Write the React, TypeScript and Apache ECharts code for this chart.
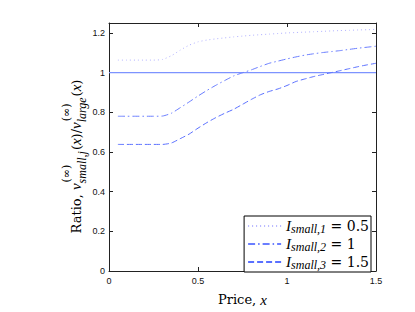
import React, { useEffect, useRef } from "react";
import * as echarts from "echarts";

const priceX = [0.05, 0.1, 0.15, 0.2, 0.25, 0.3, 0.35, 0.4, 0.45, 0.5, 0.55, 0.6, 0.65, 0.7, 0.75, 0.8, 0.85, 0.9, 0.95, 1.0, 1.05, 1.1, 1.15, 1.2, 1.25, 1.3, 1.35, 1.4, 1.45, 1.5];
const ratioI05 = [1.063, 1.063, 1.063, 1.063, 1.063, 1.066, 1.085, 1.113, 1.138, 1.155, 1.164, 1.17, 1.175, 1.18, 1.184, 1.188, 1.191, 1.194, 1.197, 1.2, 1.202, 1.204, 1.206, 1.208, 1.21, 1.212, 1.213, 1.215, 1.216, 1.218];
const ratioI10 = [0.78, 0.78, 0.78, 0.78, 0.78, 0.781, 0.795, 0.823, 0.852, 0.882, 0.91, 0.936, 0.96, 0.983, 0.999, 1.014, 1.031, 1.047, 1.058, 1.069, 1.079, 1.088, 1.095, 1.101, 1.106, 1.111, 1.117, 1.123, 1.128, 1.133];
const ratioI15 = [0.638, 0.638, 0.638, 0.638, 0.638, 0.638, 0.645, 0.667, 0.69, 0.72, 0.748, 0.773, 0.795, 0.815, 0.84, 0.865, 0.888, 0.905, 0.918, 0.935, 0.955, 0.968, 0.98, 0.99, 1.0, 1.01, 1.02, 1.03, 1.039, 1.047];
const referenceLine = [[0, 1], [1.5, 1]];
const xTicks = [0, 0.5, 1, 1.5];
const yTicks = [0, 0.2, 0.4, 0.6, 0.8, 1, 1.2];
const seriesNames = ["I1", "I2", "I3"];
const legendSubs = ["small,1", "small,2", "small,3"];
const legendValues = ["0.5", "1", "1.5"];

const SERIF = '"Liberation Serif", "DejaVu Serif", serif';
const SERIF_UP = '"DejaVu Serif", "Liberation Serif", serif';
const SANS = '"Liberation Sans", Arial, sans-serif';

const FONT_MAIN = `13px ${SERIF_UP}`;
const FONT_IT = `italic 15px ${SERIF}`;
const FONT_SUP = `11px ${SERIF_UP}`;
const FONT_SUB = `italic 12px ${SERIF}`;

function pairs(xs: number[], ys: number[]) {
  return xs.map((x, i) => [x, ys[i]]);
}

type Tok = { t: string; f: string } | { sup: string; sub: string };

export default function App() {
  const ref = useRef<HTMLDivElement>(null);
  useEffect(() => {
    if (!ref.current) return;
    const chart = echarts.init(ref.current, null, { renderer: "svg" });
    const ctx = document.createElement("canvas").getContext("2d")!;
    const measure = (t: string, f: string) => {
      ctx.font = f;
      return ctx.measureText(t).width;
    };
    const tokens: Tok[] = [
      { t: "Ratio, ", f: FONT_MAIN },
      { t: "v", f: FONT_IT },
      { sup: "(∞)", sub: "small,j" },
      { t: "(", f: FONT_MAIN },
      { t: "x", f: FONT_IT },
      { t: ")/", f: FONT_MAIN },
      { t: "v", f: FONT_IT },
      { sup: "(∞)", sub: "large" },
      { t: "(", f: FONT_MAIN },
      { t: "x", f: FONT_IT },
      { t: ")", f: FONT_MAIN },
    ];
    const mk = (text: string, font: string, lx: number, ly: number) => ({
      type: "text",
      x: lx,
      y: ly,
      style: {
        text,
        font,
        fill: "#000",
        align: "left",
        verticalAlign: "middle",
        textAlign: "left",
        textVerticalAlign: "middle",
      },
    });
    const children: any[] = [];
    let pos = 0;
    for (const tk of tokens) {
      if ("t" in tk) {
        children.push(mk(tk.t, tk.f, pos, 0));
        pos += measure(tk.t, tk.f);
      } else {
        const ws = measure(tk.sup, FONT_SUP);
        const wb = measure(tk.sub, FONT_SUB);
        children.push(mk(tk.sup, FONT_SUP, pos + 1, -10));
        children.push(mk(tk.sub, FONT_SUB, pos, 5.5));
        pos += Math.max(ws + 1, wb) + 1;
      }
    }
    const centerY = 156.5;
    const startScreenY = centerY + pos / 2;

    const axisCommon = {
      type: "value",
      axisLine: { show: true, onZero: false, lineStyle: { color: "#222", width: 1 } },
      splitLine: { show: false },
    };
    const labelStyle = { fontFamily: SANS, fontSize: 9, color: "#111" };
    const xTick = { show: true, inside: true, length: 4, customValues: xTicks, lineStyle: { color: "#222" } };
    const yTick = { show: true, inside: true, length: 4, customValues: yTicks, lineStyle: { color: "#222" } };
    chart.setOption({
      animation: false,
      backgroundColor: "#fff",
      grid: { left: 109, right: 39, top: 23, bottom: 34.5, containLabel: false },
      xAxis: [
        {
          ...axisCommon,
          position: "bottom",
          min: 0,
          max: 1.5,
          interval: 0.5,
          axisTick: xTick,
          axisLabel: { ...labelStyle, margin: 5, customValues: xTicks, formatter: (v: number) => String(v) },
          name: "{a|Price, }{b|x}",
          nameLocation: "middle",
          nameGap: 21,
          nameTextStyle: {
            rich: {
              a: { fontFamily: SERIF_UP, fontSize: 13, color: "#000" },
              b: { fontFamily: SERIF, fontSize: 15, fontStyle: "italic", color: "#000" },
            },
          },
        },
        {
          ...axisCommon,
          position: "top",
          min: 0,
          max: 1.5,
          interval: 0.5,
          axisTick: xTick,
          axisLabel: { show: false },
        },
      ],
      yAxis: [
        {
          ...axisCommon,
          position: "left",
          min: 0,
          max: 1.25,
          interval: 0.2,
          axisTick: yTick,
          axisLabel: { ...labelStyle, margin: 4, customValues: yTicks, formatter: (v: number) => String(v) },
        },
        {
          ...axisCommon,
          position: "right",
          min: 0,
          max: 1.25,
          interval: 0.2,
          axisTick: yTick,
          axisLabel: { show: false },
        },
      ],
      legend: {
        data: seriesNames,
        orient: "vertical",
        right: 44,
        bottom: 40,
        padding: [1, 2, 1, 3],
        itemGap: 0,
        itemWidth: 33,
        itemHeight: 10,
        borderColor: "#000",
        borderWidth: 1,
        backgroundColor: "#fff",
        itemStyle: { color: "rgba(0,0,0,0)", borderWidth: 0, opacity: 0 },
        formatter: (name: string) => {
          const i = seriesNames.indexOf(name);
          return `{i|I}{s|${legendSubs[i]}}{t| = ${legendValues[i]}}`;
        },
        textStyle: {
          rich: {
            i: { fontFamily: SERIF, fontSize: 15, fontStyle: "italic", color: "#000", lineHeight: 16, verticalAlign: "middle" },
            s: { fontFamily: SERIF, fontSize: 12, fontStyle: "italic", color: "#000", lineHeight: 10, padding: [6, 0, 0, 0], verticalAlign: "middle" },
            t: { fontFamily: SERIF_UP, fontSize: 14, color: "#000", lineHeight: 16, verticalAlign: "middle" },
          },
        },
      },
      series: [
        {
          name: "one",
          type: "line",
          data: referenceLine,
          showSymbol: false,
          symbol: "none",
          lineStyle: { color: "#7d93ff", width: 1.2, type: "solid" },
          z: 1,
        },
        {
          name: "I1",
          type: "line",
          data: pairs(priceX, ratioI05),
          showSymbol: false,
          symbol: "none",
          smooth: 0.2,
          lineStyle: { color: "#b4b4ff", width: 1, type: [1, 3] },
          itemStyle: { color: "#b4b4ff" },
        },
        {
          name: "I2",
          type: "line",
          data: pairs(priceX, ratioI10),
          showSymbol: false,
          symbol: "none",
          smooth: 0.2,
          lineStyle: { color: "#6a7eff", width: 1, type: [7, 3, 1.5, 3] },
          itemStyle: { color: "#6a7eff" },
        },
        {
          name: "I3",
          type: "line",
          data: pairs(priceX, ratioI15),
          showSymbol: false,
          symbol: "none",
          smooth: 0.2,
          lineStyle: { color: "#5a70ff", width: 1, type: [6, 3] },
          itemStyle: { color: "#5a70ff" },
        },
      ],
      graphic: [
        {
          type: "group",
          x: 76,
          y: startScreenY,
          rotation: Math.PI / 2,
          children,
        },
      ],
    });
    return () => chart.dispose();
  }, []);
  return <div ref={ref} style={{ position: "fixed", left: 0, top: 0, width: 415, height: 312 }} />;
}
